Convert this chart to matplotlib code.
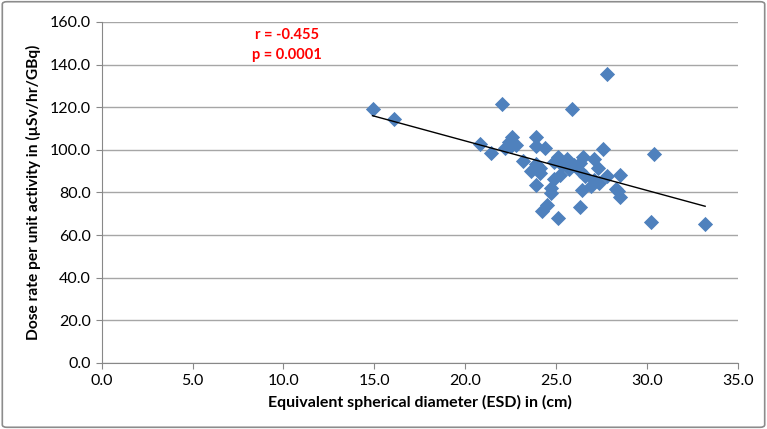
import numpy as np
import matplotlib.pyplot as plt
from matplotlib.patches import FancyBboxPatch

plt.rcParams['font.family'] = ['Lato', 'DejaVu Sans']

# ESD (cm) vs dose rate per unit activity (uSv/hr/GBq)
esd = [14.9, 16.1, 22.0, 27.8, 25.9, 20.8, 21.4, 22.2, 22.5, 22.6,
       22.8, 22.4, 23.9, 23.9, 24.4, 23.2, 23.6, 23.9, 24.1, 24.1,
       23.9, 24.7, 24.7, 24.5, 24.25, 25.1, 24.9, 25.2, 24.9, 25.1,
       25.6, 25.7, 25.3, 26.0, 26.3, 26.5, 26.3, 26.6, 26.4, 26.3,
       26.9, 27.1, 27.35, 27.1, 27.3, 27.6, 27.8, 28.5, 28.3, 28.4,
       28.5, 30.4, 30.2, 33.2]
dose = [119.0, 114.3, 121.4, 135.6, 118.9, 102.9, 98.5, 100.6, 102.0, 106.0,
        102.4, 103.5, 105.8, 101.6, 101.0, 94.8, 90.0, 93.1, 91.5, 88.9,
        83.5, 82.2, 79.9, 74.0, 71.5, 68.0, 86.1, 88.0, 94.3, 96.5,
        95.5, 90.8, 93.0, 93.0, 94.0, 96.5, 90.0, 87.7, 81.0, 73.0,
        83.0, 86.0, 84.3, 95.7, 91.6, 100.4, 87.7, 88.0, 81.5, 80.5,
        78.0, 98.2, 66.3, 65.2]

# linear trend line end points as drawn
trend_x = [14.9, 33.2]
trend_y = [116.0, 73.5]

r_text = 'r = -0.455'
p_text = 'p = 0.0001'

fig = plt.figure(figsize=(7.67, 4.29), dpi=100)
ax = fig.add_axes([0.1326, 0.154, 0.8294, 0.795])

ax.scatter(esd, dose, marker='D', s=60, color='#4F81BD', zorder=3,
           linewidths=0)
ax.plot(trend_x, trend_y, color='black', linewidth=1.0, zorder=4)

ax.set_xlim(0, 35)
ax.set_ylim(0, 160)
ax.set_xticks(np.arange(0, 35.1, 5))
ax.set_yticks(np.arange(0, 160.1, 20))
ax.set_xticklabels([f'{v:.1f}' for v in np.arange(0, 35.1, 5)])
ax.set_yticklabels([f'{v:.1f}' for v in np.arange(0, 160.1, 20)])
ax.tick_params(axis='both', labelsize=11.5, color='#888888', length=4,
               direction='out', pad=4)

ax.yaxis.grid(True, color='#A6A6A6', linewidth=1.0)
ax.set_axisbelow(True)
for side in ['top', 'right']:
    ax.spines[side].set_visible(False)
for side in ['left', 'bottom']:
    ax.spines[side].set_color('#888888')

ax.set_xlabel('Equivalent spherical diameter (ESD) in (cm)',
              fontsize=11.5, fontweight='bold', labelpad=5)
ax.set_ylabel('Dose rate per unit activity in (µSv/hr/GBq)',
              fontsize=11.2, fontweight='bold', labelpad=6)

ax.text(10.2, 153.8, r_text, color='red', fontsize=10.5, fontweight='bold',
        ha='center', va='center')
ax.text(10.2, 144.4, p_text, color='red', fontsize=10.5, fontweight='bold',
        ha='center', va='center')

# outer chart frame
fig.patches.append(FancyBboxPatch(
    (0.003, 0.004), 0.994, 0.992, boxstyle='round,pad=0,rounding_size=0.006',
    transform=fig.transFigure, facecolor='none', edgecolor='#8C8C8C',
    linewidth=1.2))

fig.savefig('out.png', dpi=100)
